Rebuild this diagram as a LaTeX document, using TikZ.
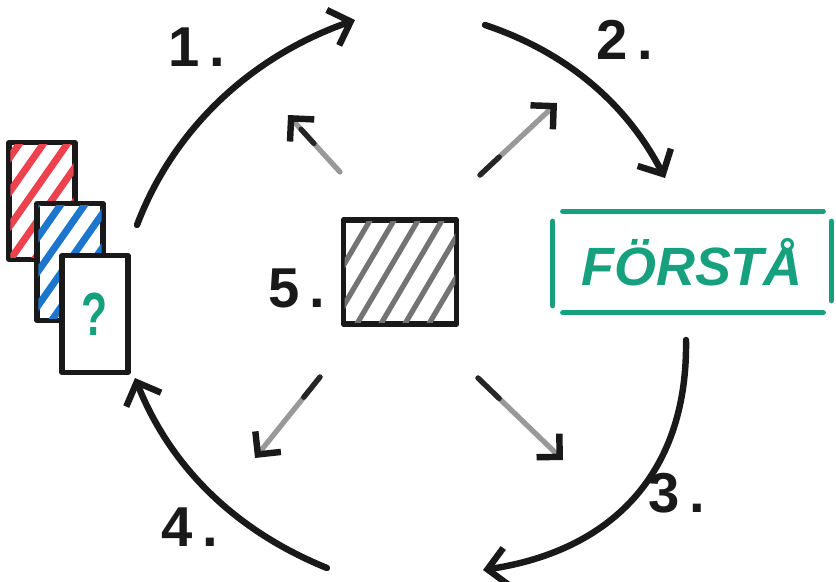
\documentclass[tikz,border=0pt]{standalone}
\usepackage{fontspec}
\setmainfont{Liberation Sans}
\usetikzlibrary{arrows.meta,calc}
\definecolor{inkred}{RGB}{236,66,78}
\definecolor{inkblue}{RGB}{28,118,206}
\definecolor{inkgreen}{RGB}{22,160,126}
\begin{document}
\begin{tikzpicture}[x=0.03cm, y=-0.03cm, line cap=round, line join=round,
  arc/.style={line width=5.5pt, draw=black!90, -{Straight Barb[length=16pt, width=32pt, line width=5.5pt]}},
  ray/.style={line width=4.5pt, draw=black!40, -{Straight Barb[length=14pt, width=28pt, line width=5.5pt, color=black!90]}},
  ink/.style={line width=4.5pt, draw=black!85},
  card/.style={draw=black!90, line width=4.5pt, fill=white, minimum width=1.98cm, minimum height=3.5cm, inner sep=0pt},
  hatch/.style={line width=6pt},
  num/.style={font=\fontsize{48}{54}\selectfont\bfseries, text=black!90},
  frame/.style={line width=4.5pt, draw=inkgreen}]
\useasboundingbox (0,0) rectangle (836,581);

% Cards
\node[card] (red) at (42,201) {};
\begin{scope}
  \clip ($(red.north west)+(4,4)$) rectangle ($(red.south east)+(-4,-4)$);
  \foreach \c in {120,144,...,264} \draw[hatch, inkred] (\c,0) -- ++(-420,600);
\end{scope}
\node[card] (blue) at (70,262) {};
\begin{scope}
  \clip ($(blue.north west)+(4,4)$) rectangle ($(blue.south east)+(-4,-4)$);
  \foreach \c in {180,204,...,330} \draw[hatch, inkblue] (\c,0) -- ++(-420,600);
\end{scope}
\node[card] (ask) at (95,314) {};
\node[font=\fontsize{52}{60}\selectfont\bfseries, text=inkgreen] (q) at (ask) {\scalebox{0.7}[1]{?}};

% Centre square
\node[draw=black!90, line width=5pt, minimum width=3.39cm, minimum height=3.12cm] (ctr) at (400,272) {};
\begin{scope}
  \clip ($(ctr.north west)+(4,4)$) rectangle ($(ctr.south east)+(-4,-4)$);
  \foreach \c in {500,524,...,620} \draw[line width=4.5pt, black!55] (\c,0) -- ++(-354,600);
\end{scope}

% Word box
\node[minimum width=8.34cm, minimum height=3.03cm, font=\fontsize{46}{52}\selectfont\bfseries\itshape, text=inkgreen] (fb) at (692,262) {FÖRSTÅ};
\draw[frame] ($(fb.north west)+(10,0)$) -- ($(fb.north east)+(-8,0)$);
\draw[frame] ($(fb.south west)+(10,0)$) -- ($(fb.south east)+(-8,0)$);
\draw[frame] ($(fb.north west)+(0,10)$) -- ($(fb.south west)+(0,-7)$);
\draw[frame] ($(fb.north east)+(0,10)$) -- ($(fb.south east)+(0,-12)$);

% Labels
\node[num] (n1) at (197,47) {1\,.};
\node[num] (n2) at (625,40) {2\,.};
\node[num] (n3) at (677,493) {3\,.};
\node[num] (n4) at (190,527) {4\,.};
\node[num] (n5) at (297,288) {5\,.};

% Cycle
\coordinate (s1) at (137,225);  \coordinate (e1) at (355,20);
\coordinate (s2) at (485,25);   \coordinate (e2) at (665,178);
\coordinate (s3) at (686,340);  \coordinate (e3) at (483,570);
\coordinate (s4) at (327,568);  \coordinate (e4) at (135,378);
\draw[arc] (s1) .. controls (175,125) and (255,55) .. (e1);
\draw[arc] (s2) .. controls (566,52) and (626,103) .. (e2);
\draw[arc] (s3) .. controls (688,470) and (615,550) .. (e3);
\draw[arc] (s4) .. controls (236,531) and (171,468) .. (e4);

% Rays from the centre
\coordinate (ul0) at (340,172); \coordinate (ul1) at (288,115);
\coordinate (ur0) at (480,175); \coordinate (ur1) at (557,103);
\coordinate (dl0) at (320,377); \coordinate (dl1) at (255,458);
\coordinate (dr0) at (478,378); \coordinate (dr1) at (563,460);
\foreach \r in {ul,ur,dl,dr} \draw[ray] (\r0) -- (\r1);
\draw[ink] ($(ul0)!0.5!(ul1)$) -- ($(ul0)!0.75!(ul1)$);
\foreach \r in {ur,dl,dr} \draw[ink] (\r0) -- ($(\r0)!0.25!(\r1)$);
\end{tikzpicture}
\end{document}
